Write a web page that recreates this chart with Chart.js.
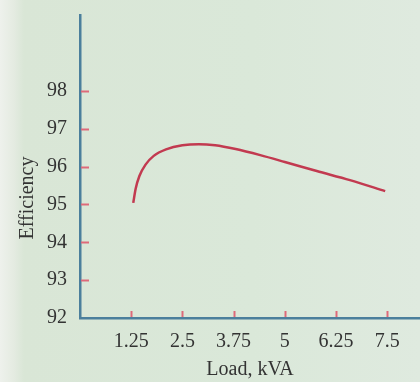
<!DOCTYPE html>
<html>
<head>
<meta charset="utf-8">
<script src="https://cdn.jsdelivr.net/npm/chart.js@4/dist/chart.umd.min.js"></script>
<style>
  html, body { margin: 0; padding: 0; }
  body {
    width: 420px; height: 382px; overflow: hidden;
    background: linear-gradient(90deg, #eef1ec 0px, #e4ebe1 14px, #d9e6d6 24px, #dae8d9 60%, #dfeadf 100%);
  }
  canvas { display: block; }
</style>
</head>
<body>
<canvas id="chartEff" width="420" height="382"></canvas>
<script>
// ── Curva de rendimento do transformador ──
const LOAD_KVA   = [1.30, 1.36, 1.45, 1.60, 1.80, 2.10, 2.50, 2.90, 3.30, 3.80, 4.40, 5.00, 5.78, 6.59, 7.45];
const EFFICIENCY = [95.04, 95.42, 95.75, 96.05, 96.28, 96.45, 96.56, 96.59, 96.56, 96.46, 96.30, 96.12, 95.88, 95.64, 95.35];
const X_TICKS = [1.25, 2.5, 3.75, 5, 6.25, 7.5];
const Y_TICKS = [92, 93, 94, 95, 96, 97, 98];

const AXIS_COLOR = '#4b7f9c';
const TICK_COLOR = '#de6a7a';
const TEXT_COLOR = '#333333';
const SERIF = '"Liberation Serif", "DejaVu Serif", serif';

// traços de escala desenhados para dentro (o Chart.js desenha-os para fora)
const innerTicks = {
  id: 'innerTicks',
  afterDatasetsDraw(chart) {
    const { ctx, scales: { x, y } } = chart;
    ctx.save();
    ctx.strokeStyle = TICK_COLOR;
    ctx.lineWidth = 2;
    Y_TICKS.slice(1).forEach(v => {
      const py = Math.round(y.getPixelForValue(v)) + 0.5;
      ctx.beginPath(); ctx.moveTo(x.left + 1, py); ctx.lineTo(x.left + 9, py); ctx.stroke();
    });
    X_TICKS.forEach(v => {
      const px = Math.round(x.getPixelForValue(v)) + 0.5;
      ctx.beginPath(); ctx.moveTo(px, y.bottom - 1); ctx.lineTo(px, y.bottom - 7); ctx.stroke();
    });
    // título do eixo y (na figura não está centrado com o eixo)
    ctx.fillStyle = TEXT_COLOR;
    ctx.font = '20px ' + SERIF;
    ctx.textAlign = 'center';
    ctx.textBaseline = 'middle';
    ctx.translate(28, 198);
    ctx.rotate(-Math.PI / 2);
    ctx.fillText('Efficiency', 0, 0);
    ctx.restore();
  }
};

new Chart(document.getElementById('chartEff'), {
  type: 'line',
  data: {
    datasets: [{
      data: LOAD_KVA.map((v, i) => ({ x: v, y: EFFICIENCY[i] })),
      borderColor: '#c23a50',
      borderWidth: 2.5,
      pointRadius: 0,
      cubicInterpolationMode: 'monotone',
      fill: false
    }]
  },
  options: {
    responsive: false,
    animation: false,
    devicePixelRatio: 1,
    layout: { padding: { top: 15, right: 0, left: 0, bottom: 0 } },
    plugins: { legend: { display: false }, tooltip: { enabled: false } },
    scales: {
      x: {
        type: 'linear',
        min: 0, max: 8.3,
        afterBuildTicks: s => { s.ticks = X_TICKS.map(v => ({ value: v })); },
        afterFit: s => { s.height = 64; s.paddingLeft = 0; s.paddingRight = 0; },
        grid: { display: false, drawTicks: false },
        border: { display: true, color: AXIS_COLOR, width: 2.5 },
        ticks: {
          autoSkip: false,
          maxRotation: 0,
          padding: 12,
          color: TEXT_COLOR,
          font: { family: SERIF, size: 20 },
          callback: v => String(v)
        },
        title: {
          display: true,
          text: 'Load, kVA',
          color: TEXT_COLOR,
          font: { family: SERIF, size: 20 },
          padding: { top: 0, bottom: 0 }
        }
      },
      y: {
        min: 92, max: 100,
        afterBuildTicks: s => { s.ticks = Y_TICKS.map(v => ({ value: v })); },
        afterFit: s => { s.width = 80; s.paddingTop = 0; s.paddingBottom = 0; },
        grid: { display: false, drawTicks: false },
        border: { display: true, color: AXIS_COLOR, width: 2.5 },
        ticks: {
          autoSkip: false,
          padding: 13,
          color: TEXT_COLOR,
          font: { family: SERIF, size: 20 }
        }
      }
    }
  },
  plugins: [innerTicks]
});
</script>
</body>
</html>
